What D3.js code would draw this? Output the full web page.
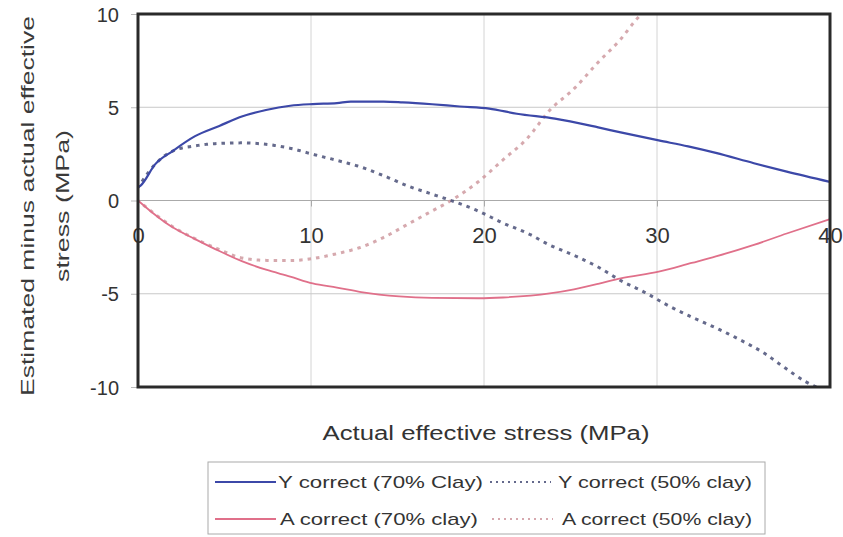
<!DOCTYPE html>
<html>
<head>
<meta charset="utf-8">
<script src="https://cdn.jsdelivr.net/npm/d3@7"></script>
<style>
	body { margin: 0; background: #fff; }
	svg { display: block; font-family: 'Liberation Sans', Arial, sans-serif; }
	.tick text { fill: #333; }
</style>
</head>
<body>
<svg id="chart" width="843" height="537"></svg>
<script>
// values: [actual stress, estimated - actual]
const yCorrect70 = [[0, 0.7], [0.15, 0.8], [1, 1.95], [2, 2.65], [3.3, 3.45], [4.7, 4], [6, 4.5],
	[7.4, 4.85], [8.8, 5.08], [10.1, 5.17], [11.5, 5.22], [12.3, 5.3], [14.2, 5.3], [15.3, 5.26],
	[17, 5.16], [18.6, 5.04], [20.3, 4.93], [21.9, 4.65], [24.1, 4.39], [26.6, 3.92], [27.9, 3.65],
	[30.1, 3.22], [31.8, 2.9], [33.4, 2.55], [35.6, 2.0], [37.5, 1.55], [40, 1.0]];
const yCorrect50 = [[0, 0.7], [1, 1.95], [2, 2.65], [3.3, 2.93], [4.7, 3.06], [6, 3.09], [7.1, 3.04],
	[8.8, 2.8], [10.1, 2.48], [11.5, 2.15], [12.9, 1.79], [14.2, 1.33], [15.6, 0.78], [17, 0.34],
	[18.1, 0], [19.7, -0.58], [21.1, -1.21], [22.5, -1.75], [23.8, -2.39], [25.2, -2.94], [26.6, -3.57],
	[27.9, -4.29], [29.3, -4.93], [30.7, -5.66], [32.1, -6.29], [33.4, -6.83], [34.8, -7.47],
	[36.2, -8.19], [37.3, -8.91], [38.6, -9.72], [39.2, -10]];
const aCorrect70 = [[0, 0], [0.8, -0.63], [2, -1.44], [3.3, -2.07], [4.7, -2.71], [6, -3.25],
	[7.4, -3.71], [8.8, -4.08], [10.1, -4.45], [11.5, -4.67], [12.9, -4.91], [15.1, -5.14], [17, -5.22],
	[19.7, -5.24], [21.1, -5.2], [23.8, -4.98], [25.2, -4.76], [26.6, -4.47], [27.9, -4.17],
	[30.1, -3.82], [32, -3.35], [33.4, -3.0], [35.6, -2.38], [37.5, -1.77], [40, -1.0]];
const aCorrect50 = [[0, 0], [0.8, -0.6], [2, -1.4], [3.3, -2.05], [4.7, -2.63], [6, -3.08],
	[7.4, -3.21], [8.8, -3.22], [10.1, -3.11], [11.5, -2.85], [12.9, -2.5], [14.2, -1.98],
	[15.6, -1.27], [17, -0.56], [18.1, 0], [19.7, 1.03], [21.1, 2.18], [22.5, 3.33], [23.8, 4.84],
	[25.2, 5.99], [26.6, 7.41], [27.9, 8.65], [28.8, 9.7], [29.1, 10]];

const xTicks = [0, 10, 20, 30, 40];
const yTicks = [-10, -5, 0, 5, 10];
const seriesNames = ['Y correct (70% Clay)', 'Y correct (50% clay)', 'A correct (70% clay)', 'A correct (50% clay)'];

const BLUE = '#3c48a8';
const PINK = '#e0708a';

const $svg = d3.select('#chart');
const plotLeft = 138, plotRight = 830, plotTop = 14, plotBottom = 387;

const x = d3.scaleLinear().domain([0, 40]).range([plotLeft, plotRight]);
const y = d3.scaleLinear().domain([-10, 10]).range([plotBottom, plotTop]);

// grid
$svg.append('g')
	.selectAll('line')
	.data([10, 20, 30])
	.join('line')
	.attr('x1', d => x(d)).attr('x2', d => x(d))
	.attr('y1', plotTop).attr('y2', plotBottom)
	.attr('stroke', '#d4d4d4').attr('stroke-width', 1);
$svg.append('g')
	.selectAll('line')
	.data([5, 0, -5])
	.join('line')
	.attr('x1', plotLeft).attr('x2', plotRight)
	.attr('y1', d => y(d)).attr('y2', d => y(d))
	.attr('stroke', d => d === 0 ? '#aaa' : '#c8c8c8').attr('stroke-width', 1);

// y axis (plain hyphen for negatives, like the original)
const yAxis = $svg.append('g')
	.attr('transform', `translate(${plotLeft},0)`)
	.call(d3.axisLeft(y).tickValues(yTicks).tickSize(7).tickPadding(12).tickFormat(d => String(d)));
yAxis.select('.domain').remove();
yAxis.selectAll('line').attr('stroke', '#bbb');
yAxis.selectAll('text').attr('font-size', 20).attr('dy', '0.36em');

// x axis sits on zero
const xAxis = $svg.append('g')
	.attr('transform', `translate(0,${y(0)})`)
	.call(d3.axisBottom(x).tickValues(xTicks).tickSize(6).tickPadding(21).tickFormat(d => String(d)));
xAxis.select('.domain').remove();
xAxis.selectAll('line').attr('stroke', '#aaa');
xAxis.selectAll('text').attr('font-size', 22);

// series
$svg.append('clipPath').attr('id', 'clip')
	.append('rect').attr('x', plotLeft).attr('y', plotTop)
	.attr('width', plotRight - plotLeft).attr('height', plotBottom - plotTop);

const line = d3.line()
	.x(d => x(d[0]))
	.y(d => y(d[1]))
	.curve(d3.curveMonotoneX);

const series = [
	{ data: aCorrect50, color: '#cf9aa0', width: 3, dash: '0.5,8', opacity: 0.85 },
	{ data: yCorrect50, color: '#4a5078', width: 3, dash: '0.5,8', opacity: 0.85 },
	{ data: aCorrect70, color: PINK, width: 1.8, dash: null, opacity: 1 },
	{ data: yCorrect70, color: BLUE, width: 2.2, dash: null, opacity: 1 }
];

$svg.append('g')
	.attr('clip-path', 'url(#clip)')
	.selectAll('path')
	.data(series)
	.join('path')
	.attr('d', d => line(d.data))
	.attr('fill', 'none')
	.attr('stroke', d => d.color)
	.attr('stroke-width', d => d.width)
	.attr('stroke-dasharray', d => d.dash)
	.attr('stroke-linecap', d => d.dash ? 'square' : 'round')
	.attr('opacity', d => d.opacity);

// frame
$svg.append('rect')
	.attr('x', plotLeft).attr('y', plotTop)
	.attr('width', plotRight - plotLeft).attr('height', plotBottom - plotTop)
	.attr('fill', 'none').attr('stroke', '#2a2a2a').attr('stroke-width', 3);

// titles
$svg.append('text')
	.attr('x', 486).attr('y', 440)
	.attr('text-anchor', 'middle')
	.attr('font-size', 20).attr('fill', '#333')
	.attr('textLength', 327).attr('lengthAdjust', 'spacingAndGlyphs')
	.text('Actual effective stress (MPa)');

const yTitle = $svg.append('g').attr('transform', 'translate(0,206) rotate(-90)');
yTitle.append('text')
	.attr('x', 0).attr('y', 34)
	.attr('text-anchor', 'middle')
	.attr('font-size', 19).attr('fill', '#3a3a3a')
	.attr('textLength', 380).attr('lengthAdjust', 'spacingAndGlyphs')
	.text('Estimated minus actual effective');
yTitle.append('text')
	.attr('x', 0).attr('y', 69)
	.attr('text-anchor', 'middle')
	.attr('font-size', 19).attr('fill', '#3a3a3a')
	.attr('textLength', 152).attr('lengthAdjust', 'spacingAndGlyphs')
	.text('stress (MPa)');

// legend
const $legend = $svg.append('g');
$legend.append('rect')
	.attr('x', 208).attr('y', 462).attr('width', 557).attr('height', 72)
	.attr('fill', '#fff').attr('stroke', '#aaa').attr('stroke-width', 1);

const legendItems = [
	{ name: seriesNames[0], s: series[3], lx: 215, ly: 482, tx: 278, tw: 205 },
	{ name: seriesNames[1], s: series[1], lx: 490, ly: 482, tx: 558, tw: 194 },
	{ name: seriesNames[2], s: series[2], lx: 215, ly: 519, tx: 280, tw: 198 },
	{ name: seriesNames[3], s: series[0], lx: 492, ly: 519, tx: 562, tw: 190 }
];

const $item = $legend.selectAll('g.item')
	.data(legendItems)
	.join('g')
	.attr('class', 'item');
$item.append('line')
	.attr('x1', d => d.lx).attr('x2', d => d.lx + 61)
	.attr('y1', d => d.ly).attr('y2', d => d.ly)
	.attr('stroke', d => d.s.color)
	.attr('stroke-width', 1.8)
	.attr('stroke-dasharray', d => d.s.dash ? '2,4' : null)
	.attr('opacity', d => d.s.opacity);
$item.append('text')
	.attr('x', d => d.tx).attr('y', d => d.ly + 6)
	.attr('font-size', 17).attr('fill', '#333')
	.attr('textLength', d => d.tw).attr('lengthAdjust', 'spacingAndGlyphs')
	.text(d => d.name);
</script>
</body>
</html>
